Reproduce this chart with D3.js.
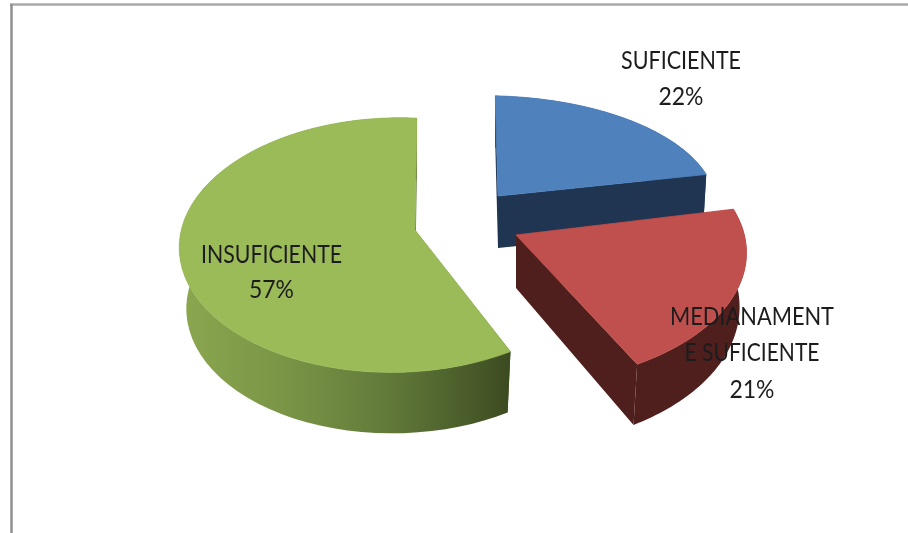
<!DOCTYPE html>
<html><head><meta charset="utf-8">
<script src="https://cdn.jsdelivr.net/npm/d3@7"></script>
<style>html,body{margin:0;padding:0;background:#fff;overflow:hidden}svg{display:block}</style>
</head><body><div id="c"></div>
<script>
const categories = ["SUFICIENTE","MEDIANAMENTE SUFICIENTE","INSUFICIENTE"];
const values = [22,21,57];
const percentLabels = ["22%","21%","57%"];
const labelLines = [["SUFICIENTE","22%"],["MEDIANAMENT","E SUFICIENTE","21%"],["INSUFICIENTE","57%"]];
const topColors = ["#4f81bd","#c0504d","#9bbb59"];
const wallColors = ["#1f3552","#4f1f1e","url(#greenWall)"];

(function(){
const W=908,H=533;
const svg=d3.select("#c").append("svg").attr("width",W).attr("height",H);
const defs=svg.append("defs");
const g=defs.append("linearGradient").attr("id","greenWall").attr("gradientUnits","userSpaceOnUse")
  .attr("x1",185).attr("x2",512).attr("y1",0).attr("y2",0);
[[0,"#8aa64f"],[0.3,"#7a9546"],[0.6,"#647c3b"],[0.85,"#4b5e2b"],[1,"#3b4a20"]].forEach(s=>g.append("stop").attr("offset",s[0]).attr("stop-color",s[1]));
defs.append("filter").attr("id","soft").append("feGaussianBlur").attr("stdDeviation",0.45);

// frame
svg.append("line").attr("x1",10).attr("x2",W).attr("y1",4.5).attr("y2",4.5).attr("stroke","#a9a9a9").attr("stroke-width",2.5);
svg.append("line").attr("x1",11.5).attr("x2",11.5).attr("y1",4).attr("y2",H).attr("stroke","#8f8f8f").attr("stroke-width",2.5);

// per-slice projection of the tilted disc
const proj=[
 {px:498,py:196,Rx:236,Ry:112,t:.118,s:.09,A:-3,C:-3,d:52,kx:.985,ky:1.0},
 {px:516,py:235,Rx:239,Ry:132,t:.118,s:.05,A:-10,C:-3,d:53,kx:.97,ky:1.06},
 {px:415,py:230,Rx:213,Ry:125,t:.118,s:.0886,A:2,C:0,d:61,kx:.97,ky:1.0}
];
const pie=d3.pie().sort(null).value(d=>d);
const arcs=pie(values);
function rimPoint(p,a){const u=Math.sin(a),v=Math.cos(a),w=1+p.t*v+p.s*u;
  return [(p.Rx*u+p.A*v)/w,(-p.Ry*v+p.C*u)/w];}
const T=(p,q)=>[p.px+q[0],p.py+q[1]];
const B=(p,q)=>[p.px+q[0]*p.kx,p.py+p.d+q[1]*p.ky];
const line=d3.line();
const samples=(d)=>d3.range(0,61).map(i=>d.startAngle+(d.endAngle-d.startAngle)*i/60);

function drawSlice(i){
  const d=arcs[i],p=proj[i],gp=svg.append("g");
  const ang=samples(d),rim=ang.map(a=>rimPoint(p,a));
  // radial walls
  const wall=(a)=>{const q=rimPoint(p,a);return [T(p,[0,0]),T(p,q),B(p,q),B(p,[0,0])];};
  gp.append("path").attr("d",line(wall(d.startAngle))+"Z").attr("fill",wallColors[i]);
  gp.append("path").attr("d",line(wall(d.endAngle))+"Z").attr("fill",wallColors[i]);
  // outer wall
  const outer=rim.map(q=>T(p,q)).concat(rim.slice().reverse().map(q=>B(p,q)));
  gp.append("path").attr("d",line(outer)+"Z").attr("fill",wallColors[i]);
  // top face
  gp.append("path").attr("d",line([T(p,[0,0])].concat(rim.map(q=>T(p,q))))+"Z")
    .attr("fill",topColors[i]).attr("stroke",topColors[i]).attr("stroke-width",.8);
}
[0,2,1].forEach(drawSlice);

// labels
const labelLayout=[
 {x:681,y:[69,105],w:[120,45]},
 {x:752,y:[325,361,398],w:[164,135,45]},
 {x:271.5,y:[263,298],w:[141,45]}
];
labelLines.forEach((ls,i)=>{
  ls.forEach((t,j)=>{
    svg.append("text").attr("x",labelLayout[i].x).attr("y",labelLayout[i].y[j])
     .attr("text-anchor","middle").attr("font-family","Lato, 'Open Sans', sans-serif").attr("font-size",25)
     .attr("fill","#1c1c1c").attr("textLength",labelLayout[i].w[j]).attr("lengthAdjust","spacingAndGlyphs")
     .attr("filter","url(#soft)").text(t);
  });
});
})();
</script></body></html>
